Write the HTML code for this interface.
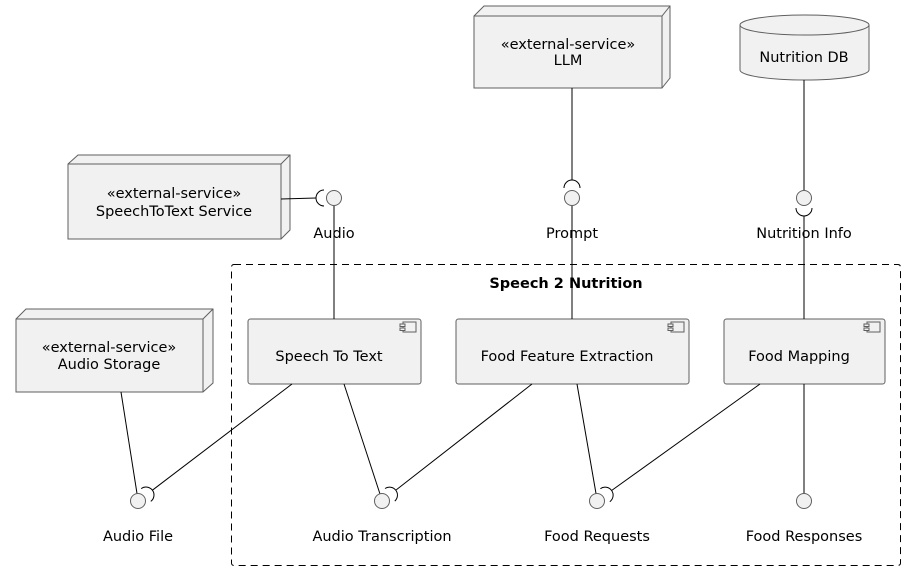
<!DOCTYPE html>
<html><head><meta charset="utf-8"><style>
html,body{margin:0;padding:0;background:#fff;}
svg{display:block;}
text{font-family:"DejaVu Sans","Liberation Sans",sans-serif;font-size:14.5px;fill:#000;}
</style></head><body>
<svg width="906" height="571" viewBox="0 0 906 571" xmlns="http://www.w3.org/2000/svg">
<g fill="#f1f1f1" stroke="#5f5f5f" stroke-width="1">
<polygon points="474,16 484,6 670,6 670,78 662,88 474,88"/>
<polyline points="474,16 662,16 670,6" fill="none"/>
<line x1="662" y1="16" x2="662" y2="88"/>
<polygon points="68,164 78,155 290,155 290,230 281,239 68,239"/>
<polyline points="68,164 281,164 290,155" fill="none"/>
<line x1="281" y1="164" x2="281" y2="239"/>
<polygon points="16,319 26,309 213,309 213,383 203,392 16,392"/>
<polyline points="16,319 203,319 213,309" fill="none"/>
<line x1="203" y1="319" x2="203" y2="392"/>
<path d="M740,25 A64.5,10 0 0 1 869,25 L869,70 A64.5,10 0 0 1 740,70 Z"/>
<path d="M740,25 A64.5,10 0 0 0 869,25" fill="none"/>
<rect x="248" y="319" width="173" height="65" rx="2.5"/>
<rect x="456" y="319" width="233" height="65" rx="2.5"/>
<rect x="724" y="319" width="161" height="65" rx="2.5"/>
</g>
<g fill="#f1f1f1" stroke="#5f5f5f" stroke-width="1">
<rect x="403" y="322" width="13" height="10"/><rect x="400" y="324" width="5" height="2.5"/><rect x="400" y="328" width="5" height="2.5"/>
<rect x="671" y="322" width="13" height="10"/><rect x="668" y="324" width="5" height="2.5"/><rect x="668" y="328" width="5" height="2.5"/>
<rect x="867" y="322" width="13" height="10"/><rect x="864" y="324" width="5" height="2.5"/><rect x="864" y="328" width="5" height="2.5"/>
</g>
<rect x="231.5" y="264.5" width="669" height="301" rx="2.5" fill="none" stroke="#000" stroke-width="1" stroke-dasharray="7,5"/>
<text x="566" y="288" text-anchor="middle" style="font-weight:bold">Speech 2 Nutrition</text>
<g stroke="#000" stroke-width="1" fill="none">
<line x1="281" y1="199" x2="316" y2="198"/>
<path d="M324,190 A8,8 0 0 0 324,206"/>
<line x1="334" y1="206" x2="334" y2="319"/>
<line x1="572" y1="88" x2="572" y2="180"/>
<path d="M564,188 A8,8 0 0 1 580,188"/>
<line x1="572" y1="206" x2="572" y2="319"/>
<line x1="804" y1="80" x2="804" y2="190"/>
<path d="M796,208 A8,8 0 0 0 812,208"/>
<line x1="804" y1="216" x2="804" y2="319"/>
<line x1="121" y1="392" x2="137" y2="493.5"/>
<line x1="292" y1="384" x2="152.4" y2="490.2"/>
<path d="M141.2,488.6 A8,8 0 0 1 150.8,501.4"/>
<line x1="344" y1="384" x2="380" y2="494"/>
<line x1="532" y1="384" x2="396.2" y2="489.9"/>
<path d="M385,488.5 A8,8 0 0 1 394.8,501.1"/>
<line x1="577" y1="384" x2="596" y2="493.5"/>
<line x1="760" y1="384" x2="611.6" y2="490.5"/>
<path d="M600.4,488.7 A8,8 0 0 1 609.8,501.7"/>
<line x1="804" y1="384" x2="804" y2="493.5"/>
</g>
<g fill="#f1f1f1" stroke="#5f5f5f" stroke-width="1">
<circle cx="334" cy="198" r="7.5"/>
<circle cx="572" cy="198" r="7.5"/>
<circle cx="804" cy="198" r="7.5"/>
<circle cx="138" cy="501" r="7.5"/>
<circle cx="382" cy="501" r="7.5"/>
<circle cx="597" cy="501" r="7.5"/>
<circle cx="804" cy="501" r="7.5"/>
</g>
<g text-anchor="middle">
<text x="568" y="49">«external-service»</text>
<text x="568" y="65">LLM</text>
<text x="804" y="62">Nutrition DB</text>
<text x="174" y="198">«external-service»</text>
<text x="174" y="216">SpeechToText Service</text>
<text x="109" y="352">«external-service»</text>
<text x="109" y="369">Audio Storage</text>
<text x="334" y="238">Audio</text>
<text x="572" y="238">Prompt</text>
<text x="804" y="238">Nutrition Info</text>
<text x="329" y="361">Speech To Text</text>
<text x="567" y="361">Food Feature Extraction</text>
<text x="799" y="361">Food Mapping</text>
<text x="138" y="541">Audio File</text>
<text x="382" y="541">Audio Transcription</text>
<text x="597" y="541">Food Requests</text>
<text x="804" y="541">Food Responses</text>
</g>
</svg>
</body></html>
